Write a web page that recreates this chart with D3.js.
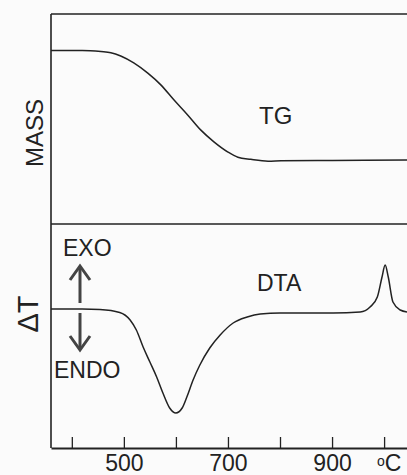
<!DOCTYPE html>
<html>
<head>
<meta charset="utf-8">
<script src="https://cdn.jsdelivr.net/npm/d3@7"></script>
<style>
  body { margin: 0; background: #fbfbfb; }
  svg { display: block; font-family: "Liberation Sans", Arial, sans-serif; }
</style>
</head>
<body>
<div id="chart"></div>
<script>
// Temperature (°C) and mass (arbitrary %) for the TG curve
var tgTemp = [360, 420, 456, 475, 494, 519, 546, 571, 596, 623, 648, 673, 700, 719, 744, 777, 802, 900, 1044];
var tgMass = [100, 100, 99.7, 99.4, 98.5, 96.6, 93.8, 90.6, 86.5, 82.3, 78.2, 75.0, 72.2, 70.8, 70.2, 69.7, 69.8, 69.9, 70.0];

// Temperature (°C) and ΔT (arbitrary) for the DTA curve
var dtaTemp = [360, 420, 454, 492, 512, 524, 537, 550, 563, 575, 588, 600, 612, 621, 633, 646, 665, 685, 710, 737, 762, 800, 902, 954, 973, 987, 996, 1002, 1008, 1017, 1031, 1044];
var dtaVal = [0, 0, -0.05, -0.35, -1.1, -2.1, -3.8, -5.3, -6.8, -8.4, -9.9, -10.4, -9.9, -8.8, -7.1, -5.6, -3.9, -2.6, -1.4, -0.8, -0.5, -0.4, -0.4, -0.3, 0.2, 1.2, 3.2, 4.4, 3.2, 0.7, -0.1, -0.3];

// Axis ticks
var tickTemps = [400, 500, 600, 700, 800, 900, 1000];
var tickLabels = ["", "500", "", "700", "", "900", ""];

var width = 407, height = 475;
var mLeft = 51, mTop = 14, mMid = 224, mBottom = 448;
var ink = "#222";

var svg = d3.select("#chart").append("svg")
    .attr("width", width)
    .attr("height", height);

var x = d3.scaleLinear().domain([360, 1044]).range([mLeft, width]);
var yMass = d3.scaleLinear().domain([52.5, 110]).range([mMid, mTop]);
var yDta = d3.scaleLinear().domain([-13.9, 8.5]).range([mBottom, mMid]);

// Frame
svg.append("line").attr("x1", mLeft).attr("x2", width).attr("y1", mTop).attr("y2", mTop);
svg.append("line").attr("x1", mLeft).attr("x2", width).attr("y1", mMid).attr("y2", mMid);
svg.append("line").attr("x1", mLeft).attr("x2", mLeft).attr("y1", mTop).attr("y2", mBottom);
svg.selectAll("line").attr("stroke", ink).attr("stroke-width", 1.6);

// Bottom axis with inward ticks
var axis = d3.axisBottom(x)
    .tickValues(tickTemps)
    .tickFormat(function(d, i) { return tickLabels[i]; })
    .tickSize(-11)
    .tickSizeOuter(0)
    .tickPadding(7);
var ax = svg.append("g")
    .attr("transform", "translate(0," + mBottom + ")")
    .call(axis);
ax.select(".domain").attr("stroke", ink).attr("stroke-width", 1.8);
ax.selectAll(".tick line").attr("stroke", ink).attr("stroke-width", 1.3);
ax.selectAll(".tick text")
    .attr("fill", ink)
    .style("font-size", "23px")
    .style("font-family", "'Liberation Sans', Arial, sans-serif");

// unit label: small raised "o" then C
var unit = svg.append("text")
    .attr("x", 377).attr("y", 471)
    .attr("fill", ink)
    .style("font-size", "23px");
unit.append("tspan").attr("dy", -5).style("font-size", "14px").text("o");
unit.append("tspan").attr("dy", 5).text("C");

// Curves
var tgLine = d3.line()
    .x(function(d) { return x(d[0]); })
    .y(function(d) { return yMass(d[1]); })
    .curve(d3.curveMonotoneX);
var dtaLine = d3.line()
    .x(function(d) { return x(d[0]); })
    .y(function(d) { return yDta(d[1]); })
    .curve(d3.curveMonotoneX);

svg.append("path")
    .datum(d3.zip(tgTemp, tgMass))
    .attr("d", tgLine)
    .attr("fill", "none")
    .attr("stroke", ink)
    .attr("stroke-width", 1.5);

svg.append("path")
    .datum(d3.zip(dtaTemp, dtaVal))
    .attr("d", dtaLine)
    .attr("fill", "none")
    .attr("stroke", ink)
    .attr("stroke-width", 1.5);

// Labels
function label(txt, px, py, size, rot) {
    var t = svg.append("text")
        .attr("fill", ink)
        .style("font-size", size + "px")
        .text(txt);
    if (rot) {
        t.attr("text-anchor", "middle")
         .attr("transform", "translate(" + px + "," + py + ") rotate(-90)");
    } else {
        t.attr("x", px).attr("y", py);
    }
    return t;
}
label("MASS", 43, 133, 24, true);
label("\u0394T", 38, 314, 29, true);
label("TG", 259, 124, 24);
label("DTA", 257, 291, 23);
label("EXO", 63, 256, 23);
label("ENDO", 54, 378, 23);

// EXO / ENDO arrows
var arrowColor = "#444";
var g = svg.append("g")
    .attr("stroke", arrowColor)
    .attr("fill", "none")
    .attr("stroke-width", 3);
g.append("line").attr("x1", 80).attr("x2", 80).attr("y1", 303).attr("y2", 267);
g.append("path").attr("d", "M70,280 L80,266 L90,280").attr("stroke-linejoin", "miter");
g.append("line").attr("x1", 80).attr("x2", 80).attr("y1", 313).attr("y2", 349);
g.append("path").attr("d", "M70,336 L80,350 L90,336").attr("stroke-linejoin", "miter");
</script>
</body>
</html>
